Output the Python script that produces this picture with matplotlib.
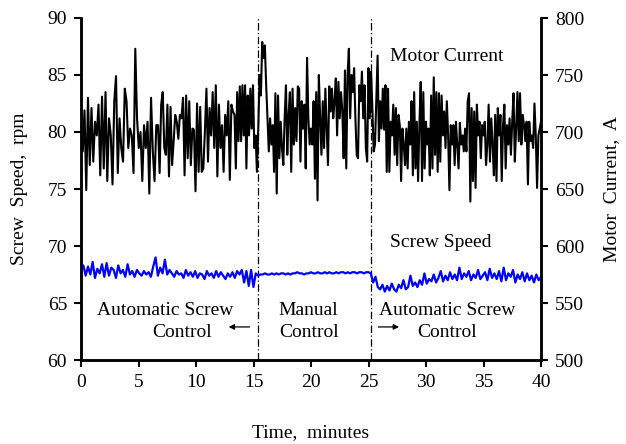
import numpy as np
import matplotlib
matplotlib.use("Agg")
import matplotlib.pyplot as plt

plt.rcParams['font.family'] = ['Liberation Serif', 'DejaVu Serif']

# Motor current (A), read in six consecutive time blocks
current_blocks = [
    [697, 683, 719, 649, 730, 671, 721, 674, 709, 697, 724, 662, 731, 668, 735, 657, 712, 697, 654, 727,
     749, 664, 712, 686, 674, 738, 727, 686, 703, 697, 664, 773, 712, 686, 700, 657, 706, 686, 709, 646,
     730, 683, 657, 706],
    [706, 664, 724, 735, 686, 680, 724, 661, 722, 671, 692, 715, 709, 694, 715, 712, 730, 662, 732, 677,
     727, 671, 703, 702, 648, 725, 665, 722, 665, 668, 700, 738, 674, 721, 697, 735, 686, 741, 661, 724,
     686, 706, 665, 715, 697, 727, 658, 724, 718],
    [715, 668, 735, 692, 740, 692, 741, 697, 741, 668, 732, 697, 738, 703, 741, 686, 697, 665, 703, 750,
     732, 779, 765, 776, 741, 712, 683, 712, 689, 706, 665, 734, 646, 732, 677, 709, 686, 671, 712, 741,
     680, 715, 735, 665, 738, 689, 721, 692, 740, 738, 674, 727, 703, 724, 668, 765, 712, 689],
    [703, 689, 727, 659, 735, 640, 750, 712, 680, 727, 686, 738, 703, 671, 740, 718, 738, 712, 727, 747,
     697, 744, 712, 735, 718, 677, 754, 668, 750, 773, 712, 750, 735, 756, 712, 680, 677, 741, 727, 753,
     712, 741, 686, 674, 756, 712, 753, 721, 683, 689, 727, 767, 692, 727, 703, 738, 702, 741, 665],
    [738, 665, 709, 697, 724, 680, 721, 671, 715, 706, 657, 703, 689, 671, 703, 668, 709, 689, 727, 662,
     735, 668, 709, 657, 706, 744, 657, 735, 668, 709, 689, 703, 662, 732, 668, 748, 680, 735, 665, 734,
     674, 732, 697, 718, 686, 727, 697, 649, 706, 689, 706, 671, 709, 689, 668, 708, 689, 697, 683],
    [703, 683, 727, 734, 639, 721, 657, 718, 651, 724, 697, 709, 677, 706, 697, 709, 671, 689, 724, 674,
     712, 689, 662, 715, 657, 721, 697, 715, 657, 706, 724, 668, 706, 689, 712, 680, 709, 734, 674, 703,
     735, 692, 734, 689, 715, 706, 692, 709, 654, 709, 692, 697, 686, 725, 697, 651, 697, 703, 709],
]
current_block_edges = [0.0, 6.7, 13.35, 20.0, 26.7, 33.4, 40.0]

# Screw speed (rpm) in the three control periods
speed_auto1 = [67.8, 68.3, 67.4, 68.2, 67.5, 68.6, 67.2, 68.0, 67.6, 68.4, 67.3, 68.5, 67.4, 68.1, 67.9, 67.2,
               68.3, 67.6, 67.9, 67.3, 68.4, 67.5, 67.8, 67.3, 67.9, 67.6, 67.4, 67.8, 67.5, 67.7, 67.3, 68.2,
               69.0, 67.4, 68.1, 67.6, 68.8, 67.5, 67.9, 67.6, 67.3, 67.8, 67.5, 67.6, 67.2, 67.9, 67.4, 67.7,
               67.3, 67.8, 67.2, 67.6, 67.5, 67.1, 67.8, 67.4, 67.6, 67.2, 67.8, 67.3, 67.7, 67.4, 67.1, 67.6,
               67.3, 67.7, 67.2, 67.8, 67.5, 67.9, 66.8, 67.8, 66.5, 67.9, 66.4, 67.6]
speed_manual = [67.4, 67.5, 67.5, 67.6, 67.5, 67.5, 67.6, 67.5, 67.6, 67.5, 67.6, 67.6, 67.5, 67.6, 67.5, 67.6,
                67.6, 67.7, 67.6, 67.6, 67.5, 67.6, 67.6, 67.7, 67.6, 67.6, 67.7, 67.6, 67.6, 67.7, 67.6, 67.7,
                67.6, 67.6, 67.7, 67.6, 67.7, 67.7, 67.6, 67.7, 67.6, 67.7, 67.7, 67.6, 67.7, 67.7, 67.6, 67.7,
                67.7]
speed_auto2 = [67.6, 66.8, 67.3, 66.4, 66.2, 66.6, 66.0, 66.5, 66.1, 66.7, 66.2, 66.0, 66.6, 66.3, 67.0, 66.2,
               66.4, 67.4, 66.5, 66.8, 66.4, 67.0, 66.6, 67.6, 66.7, 67.1, 66.9, 67.5, 66.8, 67.2, 67.8, 66.9,
               67.4, 67.0, 67.7, 67.1, 67.5, 67.0, 68.1, 67.1, 67.6, 67.3, 67.8, 67.0, 67.5, 67.2, 67.9, 67.1,
               67.4, 67.7, 67.0, 68.0, 67.2, 67.6, 67.1, 67.8, 66.9, 68.1, 67.0, 67.6, 67.3, 67.9, 66.8, 67.5,
               67.1, 67.7, 66.9, 67.6, 67.0, 67.4, 66.8, 67.5, 67.0, 67.3]
switch_times = [15.4, 25.2]

x_ticks = [0, 5, 10, 15, 20, 25, 30, 35, 40]
left_ticks = [60, 65, 70, 75, 80, 85, 90]
right_ticks = [500, 550, 600, 650, 700, 750, 800]

# build time axes
t_cur, v_cur = [], []
for i, blk in enumerate(current_blocks):
    last = i == len(current_blocks) - 1
    t_cur.append(np.linspace(current_block_edges[i], current_block_edges[i + 1], len(blk), endpoint=last))
    v_cur.append(blk)
t_cur = np.concatenate(t_cur)
v_cur = np.concatenate(v_cur)

sp_edges = [0.0, switch_times[0], switch_times[1], 40.0]
t_sp = np.concatenate([
    np.linspace(sp_edges[0], sp_edges[1], len(speed_auto1), endpoint=False),
    np.linspace(sp_edges[1], sp_edges[2], len(speed_manual), endpoint=False),
    np.linspace(sp_edges[2], sp_edges[3], len(speed_auto2)),
])
v_sp = np.concatenate([speed_auto1, speed_manual, speed_auto2])

fig = plt.figure(figsize=(6.26, 4.44), dpi=100)
ax = fig.add_axes([81 / 626, 1 - 360 / 444, 460 / 626, 342 / 444])
ax2 = ax.twinx()

ax.plot(t_sp, v_sp, color='#0000ff', lw=1.6, zorder=3)
ax2.plot(t_cur, v_cur, color='black', lw=1.5)

for st in switch_times:
    ax.axvline(st, color='black', lw=0.9, ls=(0, (6, 2, 1, 2)))

ax.set_xlim(0, 40)
ax.set_ylim(60, 90)
ax2.set_ylim(500, 800)
ax.set_xticks(x_ticks)
ax.set_yticks(left_ticks)
ax2.set_yticks(right_ticks)

fs = 14
for a in (ax, ax2):
    a.tick_params(labelsize=fs, direction='out', length=5, width=1.5, pad=5)
    for s in a.spines.values():
        s.set_linewidth(1.8)
    a.spines['top'].set_visible(False)

ax.set_xlabel('Time,  minutes', fontsize=fs, labelpad=24)
ax.set_ylabel('Screw  Speed,  rpm', fontsize=fs, labelpad=14)
ax2.set_ylabel('Motor  Current,  A', fontsize=fs, labelpad=14)

ax.text(26.9, 86.6, 'Motor Current', fontsize=fs, ha='left', va='center')
ax.text(26.9, 70.3, 'Screw Speed', fontsize=fs, ha='left', va='center')

ax.text(7.3, 64.3, 'Automatic Screw', fontsize=fs, ha='center', va='center')
ax.text(8.8, 62.4, 'Control', fontsize=fs, ha='center', va='center')
ax.text(19.8, 64.3, 'Manual', fontsize=fs, ha='center', va='center')
ax.text(19.8, 62.4, 'Control', fontsize=fs, ha='center', va='center')
ax.text(31.8, 64.3, 'Automatic Screw', fontsize=fs, ha='center', va='center')
ax.text(31.8, 62.4, 'Control', fontsize=fs, ha='center', va='center')

ax.annotate('', xy=(12.6, 62.9), xytext=(14.9, 62.9),
            arrowprops=dict(arrowstyle='-|>', color='black', lw=0.9, mutation_scale=8))
ax.annotate('', xy=(27.9, 62.9), xytext=(25.6, 62.9),
            arrowprops=dict(arrowstyle='-|>', color='black', lw=0.9, mutation_scale=8))

fig.savefig('out.png', dpi=100)
